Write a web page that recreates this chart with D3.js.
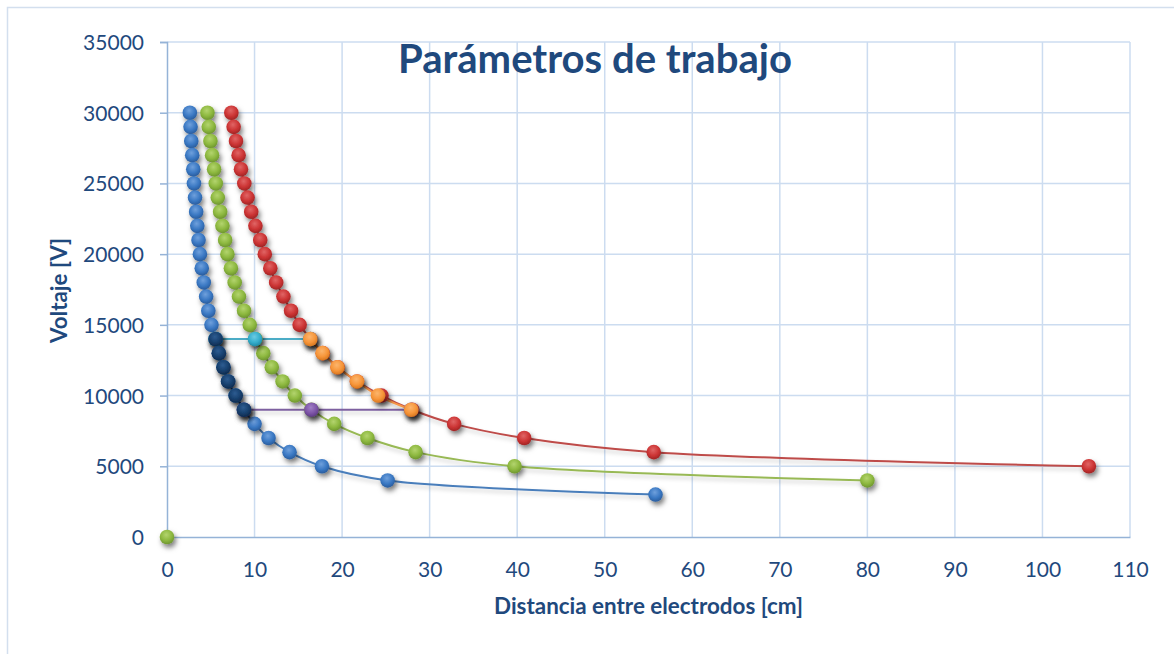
<!DOCTYPE html>
<html><head><meta charset="utf-8">
<script src="https://cdn.jsdelivr.net/npm/d3@7/dist/d3.min.js"></script>
<style>
html,body{margin:0;padding:0;background:#fff;}
svg{display:block;}
text{font-family:Lato,"Open Sans",sans-serif;fill:#1F497D;}
</style></head>
<body>
<svg id="c" width="1174" height="654"></svg>
<script>
// ---- data ----
const title = "Parámetros de trabajo";
const xTitle = "Distancia entre electrodos [cm]";
const yTitle = "Voltaje [V]";
const xTicks = [0,10,20,30,40,50,60,70,80,90,100,110];
const yTicks = [0,5000,10000,15000,20000,25000,30000,35000];

const voltsBlue = [30000,29000,28000,27000,26000,25000,24000,23000,22000,21000,20000,19000,18000,17000,16000,15000,14000,13000,12000,11000,10000,9000,8000,7000,6000,5000,4000,3000];
const distBlue  = [2.61,2.69,2.77,2.88,3.0,3.08,3.2,3.33,3.46,3.6,3.76,3.97,4.2,4.47,4.72,5.08,5.55,5.92,6.45,6.98,7.84,8.79,10.0,11.6,14.0,17.7,25.2,55.8];

const voltsGreen = [30000,29000,28000,27000,26000,25000,24000,23000,22000,21000,20000,19000,18000,17000,16000,15000,14000,13000,12000,11000,10000,9000,8000,7000,6000,5000,4000];
const distGreen  = [4.62,4.77,4.96,5.15,5.38,5.57,5.8,6.07,6.33,6.64,6.9,7.3,7.73,8.22,8.8,9.45,10.1,11.0,11.97,13.2,14.6,16.5,19.1,22.9,28.4,39.7,80.0];

const voltsRed = [30000,29000,28000,27000,26000,25000,24000,23000,22000,21000,20000,19000,18000,17000,16000,15000,14000,13000,12000,11000,10000,9000,8000,7000,6000,5000];
const distRed  = [7.35,7.61,7.88,8.18,8.45,8.83,9.2,9.62,10.1,10.65,11.17,11.8,12.47,13.3,14.17,15.15,16.4,17.8,19.5,21.7,24.5,28.0,32.8,40.8,55.6,105.3];

const voltsCyan = [14000,14000,14000];
const distCyan  = [5.55,10.05,16.36];

const voltsPurple = [9000,9000,9000];
const distPurple  = [8.79,16.5,27.9];

const voltsDark = [14000,13000,12000,11000,10000,9000];
const distDark  = [5.55,5.92,6.45,6.98,7.84,8.79];

const voltsOrange = [14000,13000,12000,11000,10000,9000];
const distOrange  = [16.36,17.77,19.47,21.7,24.1,27.9];

const voltsOrigin = [0];
const distOrigin  = [0];

// ---- styles ----
const series = [
  {name:"blue",   x:distBlue,   y:voltsBlue,   line:"#4A7EBB", fill:"#3A78C3", light:"#6FA0DC", dark:"#2A5C9C", lineOn:true},
  {name:"green",  x:distGreen,  y:voltsGreen,  line:"#98B954", fill:"#8DB83F", light:"#B3D46E", dark:"#6E9530", lineOn:true},
  {name:"red",    x:distRed,    y:voltsRed,    line:"#BE4B48", fill:"#CC3434", light:"#E06565", dark:"#A02525", lineOn:true},
  {name:"cyan",   x:distCyan,   y:voltsCyan,   line:"#4BACC6", fill:"#34AECC", light:"#6CCBE2", dark:"#2189A6", lineOn:true},
  {name:"purple", x:distPurple, y:voltsPurple, line:"#7D60A0", fill:"#7E55A8", light:"#A07FC6", dark:"#5E3B86", lineOn:true},
  {name:"dark",   x:distDark,   y:voltsDark,   line:"#1F497D", fill:"#17406E", light:"#2E5C91", dark:"#0E2B4E", lineOn:true},
  {name:"orange", x:distOrange, y:voltsOrange, line:"#F79646", fill:"#F7963A", light:"#FBB56D", dark:"#D8771F", lineOn:true},
  {name:"origin", x:distOrigin, y:voltsOrigin, line:"#98B954", fill:"#8DB83F", light:"#B3D46E", dark:"#6E9530", lineOn:false}
];

const W = 1174, H = 654;
const L = 167, R = 1130, T = 42, B = 537;

const svg = d3.select("#c");
const defs = svg.append("defs");

const f = defs.append("filter").attr("id","sh").attr("filterUnits","userSpaceOnUse")
  .attr("x",0).attr("y",0).attr("width",W).attr("height",H);
f.append("feDropShadow").attr("dx",2).attr("dy",3.5).attr("stdDeviation",2.5).attr("flood-color","#000").attr("flood-opacity",0.5);
const f2 = defs.append("filter").attr("id","lsh").attr("filterUnits","userSpaceOnUse")
  .attr("x",0).attr("y",0).attr("width",W).attr("height",H);
f2.append("feDropShadow").attr("dx",1).attr("dy",3).attr("stdDeviation",2).attr("flood-color","#000").attr("flood-opacity",0.2);

series.forEach(s=>{
  const g = defs.append("radialGradient").attr("id","g_"+s.name).attr("cx","45%").attr("cy","35%").attr("r","65%");
  g.append("stop").attr("offset","0%").attr("stop-color",s.light);
  g.append("stop").attr("offset","60%").attr("stop-color",s.fill);
  g.append("stop").attr("offset","100%").attr("stop-color",s.dark);
});

// chart area border
svg.append("rect").attr("x",7.5).attr("y",7.5).attr("width",W+20).attr("height",H+20)
  .attr("fill","none").attr("stroke","#D3DFEE").attr("stroke-width",1.5);

const x = d3.scaleLinear().domain([0,110]).range([L,R]);
const y = d3.scaleLinear().domain([0,35000]).range([B,T]);

// gridlines
const grid = svg.append("g");
grid.selectAll(".vg").data(xTicks.filter(d=>d>0)).enter().append("line")
  .attr("x1",d=>x(d)).attr("x2",d=>x(d)).attr("y1",T).attr("y2",B)
  .attr("stroke","#CCDCF0").attr("stroke-width",1.5);
grid.selectAll(".hg").data(yTicks.filter(d=>d>0)).enter().append("line")
  .attr("x1",L).attr("x2",R).attr("y1",d=>y(d)).attr("y2",d=>y(d))
  .attr("stroke","#CCDCF0").attr("stroke-width",1.5);

// axes
const yAxis = d3.axisLeft(y).tickValues(yTicks).tickSize(7).tickPadding(16).tickFormat(d3.format("d"));
const ya = svg.append("g").attr("transform",`translate(${L},0)`).call(yAxis);
ya.select(".domain").attr("stroke","#95B3D7").attr("stroke-width",1.5);
ya.selectAll(".tick line").attr("stroke","#95B3D7").attr("stroke-width",1.5);
ya.selectAll(".tick text").attr("font-size",21).attr("fill","#1F497D").attr("font-family","Lato,'Open Sans',sans-serif").attr("dy","0.36em");

const xAxis = d3.axisBottom(x).tickValues(xTicks).tickSize(0).tickPadding(25).tickFormat(d3.format("d"));
const xa = svg.append("g").attr("transform",`translate(0,${B})`).call(xAxis);
xa.select(".domain").attr("stroke","#95B3D7").attr("stroke-width",1.5);
xa.selectAll(".tick text").attr("font-size",21).attr("fill","#1F497D").attr("font-family","Lato,'Open Sans',sans-serif");

// lines
const lineGen = d3.line().x(d=>x(d[0])).y(d=>y(d[1])).curve(d3.curveCatmullRom.alpha(0.5));
series.forEach(s=>{
  if(!s.lineOn) return;
  const pts = s.x.map((v,i)=>[v,s.y[i]]);
  svg.append("path").attr("d",lineGen(pts)).attr("fill","none")
    .attr("stroke",s.line).attr("stroke-width",2).attr("filter","url(#lsh)");
});
// markers
series.forEach(s=>{
  const pts = s.x.map((v,i)=>[v,s.y[i]]);
  svg.append("g").attr("filter","url(#sh)").selectAll("circle").data(pts).enter().append("circle")
    .attr("cx",d=>x(d[0])).attr("cy",d=>y(d[1])).attr("r",7.3)
    .attr("fill","url(#g_"+s.name+")");
});

// titles
function fit(t, target){
  const len = t.node().getComputedTextLength();
  const fs = parseFloat(t.attr("font-size"));
  t.attr("font-size", fs*target/len);
}
const tt = svg.append("text").attr("x",595).attr("y",73).attr("text-anchor","middle")
  .attr("font-weight","bold").attr("font-size",36).text(title);
fit(tt,394);
const xt = svg.append("text").attr("x",648.5).attr("y",614).attr("text-anchor","middle")
  .attr("font-weight","bold").attr("font-size",20).text(xTitle);
fit(xt,309);
const yt = svg.append("text").attr("transform","translate(67,290.5) rotate(-90)").attr("text-anchor","middle")
  .attr("font-weight","bold").attr("font-size",20).text(yTitle);
fit(yt,105);
</script>
</body></html>
